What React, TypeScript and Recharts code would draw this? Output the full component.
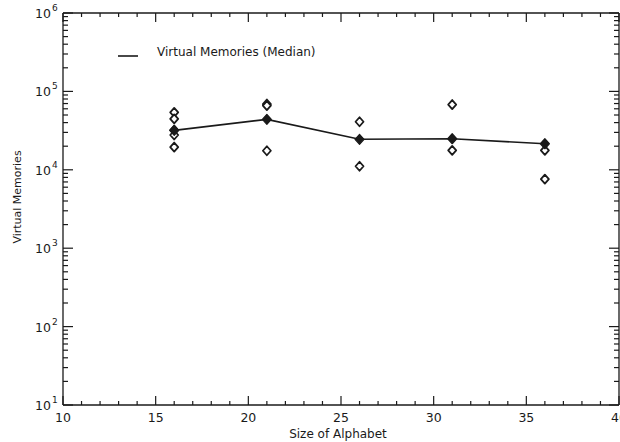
import { ComposedChart, Line, Scatter, XAxis, YAxis } from "recharts";

// alphabet sizes tested
const alphabetSizes: number[] = [16, 21, 26, 31, 36];
// median virtual memories per alphabet size
const medianMemories: number[] = [31800, 44000, 24500, 24900, 21500];
// individual runs (open diamonds), one list per alphabet size
const runs16: number[] = [54000, 44500, 32000, 27800, 19500];
const runs21: number[] = [69000, 66000, 17500];
const runs26: number[] = [41000, 11100];
const runs31: number[] = [68000, 17700];
const runs36: number[] = [17700, 7600];

const xTicks: number[] = [10, 11, 12, 13, 14, 15, 16, 17, 18, 19, 20, 21, 22, 23, 24, 25, 26, 27, 28, 29, 30, 31, 32, 33, 34, 35, 36, 37, 38, 39, 40];
const decades: number[] = [10, 100, 1000, 10000, 100000, 1000000];
const decadeExp: string[] = ["1", "2", "3", "4", "5", "6"];

const yTicks: number[] = [];
decades.forEach((d, i) => {
    if (i === decades.length - 1) { yTicks.push(d); return; }
    for (let m = 1; m < 10; m++) yTicks.push(m * d);
});

const medianData = alphabetSizes.map((x, i) => ({ x, y: medianMemories[i] }));
const runData = [runs16, runs21, runs26, runs31, runs36].flatMap((vals, i) =>
    vals.map((y) => ({ x: alphabetSizes[i], y }))
);

const FONT = "'DejaVu Sans', sans-serif";
const INK = "#1a1a1a";
// recharts offsets the tick anchor by tickSize + tickMargin
const TS = 1;

const isMajorY = (v: number) => decades.indexOf(v) >= 0;

const renderLeftTick = (props: any) => {
    const { x, y, payload } = props;
    const v = payload.value;
    const major = isMajorY(v);
    const idx = decades.indexOf(v);
    const ax = x + TS;
    const len = major ? 10 : 5;
    return (
        <g key={`l${v}`}>
            <path d={`M${ax},${y}H${ax + len}`} stroke={INK} strokeWidth={1.2} fill="none" />
            {major && (
                <text x={ax - 12} y={y + 5} textAnchor="end" fontFamily={FONT} fontSize={12.5} fill={INK}>
                    10
                </text>
            )}
            {major && (
                <text x={ax - 11} y={y - 2} textAnchor="start" fontFamily={FONT} fontSize={9} fill={INK}>
                    {decadeExp[idx]}
                </text>
            )}
        </g>
    );
};

const renderRightTick = (props: any) => {
    const { x, y, payload } = props;
    const ax = x - TS;
    const len = isMajorY(payload.value) ? 10 : 5;
    return <path key={`r${payload.value}`} d={`M${ax},${y}H${ax - len}`} stroke={INK} strokeWidth={1.2} fill="none" />;
};

const renderBottomTick = (props: any) => {
    const { x, y, payload } = props;
    const ay = y - TS;
    const major = payload.value % 5 === 0;
    const len = major ? 9 : 4;
    return (
        <g key={`b${payload.value}`}>
            <path d={`M${x},${ay}V${ay - len}`} stroke={INK} strokeWidth={1.2} fill="none" />
            {major && (
                <text x={x} y={ay + 17} textAnchor="middle" fontFamily={FONT} fontSize={12.5} fill={INK}>
                    {payload.value}
                </text>
            )}
        </g>
    );
};

const renderTopTick = (props: any) => {
    const { x, y, payload } = props;
    const ay = y + TS;
    const len = payload.value % 5 === 0 ? 9 : 4;
    return <path key={`t${payload.value}`} d={`M${x},${ay}V${ay + len}`} stroke={INK} strokeWidth={1.2} fill="none" />;
};

const OpenDiamond = (props: any) => {
    const { cx, cy } = props;
    return (
        <path
            d={`M${cx},${cy - 4.5} L${cx + 4},${cy} L${cx},${cy + 4.5} L${cx - 4},${cy} Z`}
            fill="#fff"
            stroke={INK}
            strokeWidth={1.8}
            strokeLinejoin="round"
        />
    );
};

const FilledDiamond = (props: any) => {
    const { cx, cy } = props;
    return (
        <path
            d={`M${cx},${cy - 5} L${cx + 4.5},${cy} L${cx},${cy + 5} L${cx - 4.5},${cy} Z`}
            fill={INK}
            stroke={INK}
            strokeWidth={1.2}
            strokeLinejoin="round"
        />
    );
};

export default function App() {
    return (
        <div style={{ position: "absolute", left: 0, top: 0, width: 620, height: 442, background: "#fff" }}>
            <ComposedChart width={620} height={442} margin={{ top: 12, right: 0, bottom: 0, left: 0 }}>
                <XAxis
                    xAxisId="b"
                    dataKey="x"
                    type="number"
                    domain={[10, 40]}
                    ticks={xTicks}
                    interval={0}
                    tick={renderBottomTick}
                    tickLine={false}
                    tickSize={TS}
                    tickMargin={0}
                    height={37}
                    stroke={INK}
                    strokeWidth={1.3}
                    allowDataOverflow
                />
                <XAxis
                    xAxisId="t"
                    dataKey="x"
                    orientation="top"
                    type="number"
                    domain={[10, 40]}
                    ticks={xTicks}
                    interval={0}
                    tick={renderTopTick}
                    tickLine={false}
                    tickSize={TS}
                    tickMargin={0}
                    height={1}
                    stroke={INK}
                    strokeWidth={1.3}
                    allowDataOverflow
                />
                <YAxis
                    yAxisId="l"
                    dataKey="y"
                    scale="log"
                    type="number"
                    domain={[10, 1000000]}
                    ticks={yTicks}
                    interval={0}
                    tick={renderLeftTick}
                    tickLine={false}
                    tickSize={TS}
                    tickMargin={0}
                    width={63}
                    stroke={INK}
                    strokeWidth={1.3}
                    allowDataOverflow
                />
                <YAxis
                    yAxisId="r"
                    dataKey="y"
                    orientation="right"
                    scale="log"
                    type="number"
                    domain={[10, 1000000]}
                    ticks={yTicks}
                    interval={0}
                    tick={renderRightTick}
                    tickLine={false}
                    tickSize={TS}
                    tickMargin={0}
                    width={1}
                    stroke={INK}
                    strokeWidth={1.3}
                    allowDataOverflow
                />
                {/* invisible twin so the top and right frame axes get their ticks */}
                <Line
                    xAxisId="t"
                    yAxisId="r"
                    data={medianData}
                    dataKey="y"
                    stroke="none"
                    dot={false}
                    activeDot={false}
                    legendType="none"
                    isAnimationActive={false}
                />
                <Scatter
                    xAxisId="b"
                    yAxisId="l"
                    data={runData}
                    shape={<OpenDiamond />}
                    isAnimationActive={false}
                />
                <Line
                    xAxisId="b"
                    yAxisId="l"
                    data={medianData}
                    dataKey="y"
                    stroke={INK}
                    strokeWidth={1.6}
                    dot={<FilledDiamond />}
                    activeDot={false}
                    isAnimationActive={false}
                />
            </ComposedChart>
            <svg width={620} height={442} style={{ position: "absolute", left: 0, top: 0, pointerEvents: "none" }}>
                <line x1={118} y1={56} x2={138} y2={56} stroke={INK} strokeWidth={1.6} />
                <text x={157} y={56} fontFamily={FONT} fontSize={12} fill={INK}>
                    Virtual Memories (Median)
                </text>
                <text x={338} y={438} textAnchor="middle" fontFamily={FONT} fontSize={12} fill={INK}>
                    Size of Alphabet
                </text>
                <text
                    x={21}
                    y={197}
                    textAnchor="middle"
                    fontFamily={FONT}
                    fontSize={11}
                    fill={INK}
                    transform="rotate(-90 21 197)"
                >
                    Virtual Memories
                </text>
            </svg>
        </div>
    );
}
